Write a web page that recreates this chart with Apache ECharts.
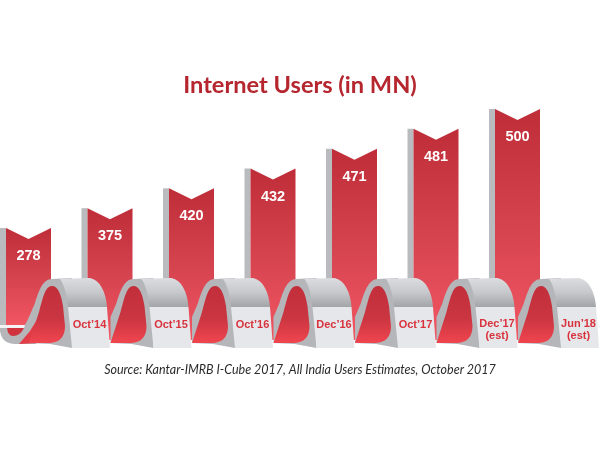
<!DOCTYPE html>
<html>
<head>
<meta charset="utf-8">
<style>html,body{margin:0;padding:0;background:#fff}#chart{width:600px;height:450px}</style>
<script src="https://cdn.jsdelivr.net/npm/echarts@6/dist/echarts.min.js"></script>
</head>
<body>
<div id="chart"></div>
<script>
// the picture is not to scale: bars step up evenly, so the y axis is ordinal
const categories = ["Oct’14", "Oct’15", "Oct’16", "Dec’16", "Oct’17", "Dec’17\n(est)", "Jun’18\n(est)"];
const users = [278, 375, 420, 432, 471, 481, 500];
const levels = users.map(String);

const chart = echarts.init(document.getElementById("chart"));
const Grad = echarts.graphic.LinearGradient;

const barW = 45;
const sideW = 6;
const notch = 11;

function path(d, fill) {
  return { type: "path", shape: { pathData: d }, style: { fill: fill } };
}

function renderBar(params, api) {
  const i = api.value(0);
  const top = api.coord([i, api.value(1)]);
  const base = api.coord([i, 0])[1];
  const x0 = top[0] - barW / 2;
  const h = top[1] - base; // negative, measured from the base level
  const bottom = i === 0 ? 98 : 112;
  const sideBottom = i === 0 ? 104 : 72;
  return {
    type: "group",
    x: x0,
    y: base,
    children: [
      path(`M${-sideW} ${h}L0 ${h}L0 ${sideBottom}L${-sideW} ${sideBottom}Z`, "#b9bbbf"),
      path(`M0 ${h}L${barW / 2} ${h + notch}L${barW} ${h}L${barW} ${bottom}L0 ${bottom}Z`,
        new Grad(0, 0, 0, 1, [
          { offset: 0, color: "#bf2e38" },
          { offset: 0.5, color: "#d4434e" },
          { offset: 1, color: "#f25663" }
        ])),
      {
        type: "text",
        style: {
          text: String(users[i]), x: barW / 2, y: h + 28,
          align: "center", verticalAlign: "middle",
          fill: "#fff", font: 'bold 14.5px "Liberation Sans"'
        }
      }
    ]
  };
}

function renderArch(params, api) {
  const i = api.value(0);
  const pt = api.coord([i, 0]);
  const children = [];
  if (i === 0) {
    // ribbon tail that curls out of the first bar
    children.push(path("M-6 100Q-6 116 10 116L30 116L30 85L23 89Q18 100 16 100Z", "#b4b6ba"));
    children.push(path("M1 100L18 100Q14 108 7 108Q2 108 1 100Z", "#d0333d"));
    children.push(path("M-6 97L19 97L18 100L-6 100Z", "#f4f4f5"));
  }
  children.push(path("M23 115L23 89L29 75C33 62 37 51 46 51L66 50L66 120L44 116Z", "#b4b6ba"));
  if (i === 0) {
    children.push(path("M13 116L24 103L32 90L32 115Z", "#e23d47"));
  }
  children.push(
    path("M23 115L33 84C37 70 39 58 46 58C52 58 55 66 57 78L59 98Q59 114 44 115Z",
      new Grad(0, 0, 0, 1, [
        { offset: 0, color: "#c22f3a" },
        { offset: 0.55, color: "#c93540" },
        { offset: 1, color: "#f0454f" }
      ])),
    path("M46 51L84 50C94 52 100 64 101 79L62 79C61 67 58 56 54 51Z",
      new Grad(0, 0, 0, 1, [
        { offset: 0, color: "#dcdde0" },
        { offset: 0.5, color: "#c6c8cb" },
        { offset: 1, color: "#a2a4a8" }
      ])),
    path("M62 79L101 79L104 120L66 120Z", "#e6e7ea"),
    {
      type: "text",
      style: {
        text: categories[i], x: 83.5, y: categories[i].includes("\n") ? 102 : 97,
        align: "center", verticalAlign: "middle", lineHeight: 12,
        fill: "#d8323d", font: 'bold 11px "Liberation Sans"'
      }
    }
  );
  return { type: "group", x: pt[0] - barW / 2, y: pt[1], children: children };
}

const seriesData = users.map((v, i) => [i, levels[i]]);

chart.setOption({
  animation: false,
  backgroundColor: "#fff",
  title: [
    {
      text: "Internet Users (in MN)", left: 295, top: 68, textAlign: "center",
      textStyle: { color: "#b5262f", fontFamily: "Lato", fontWeight: "bold", fontSize: 23.6 }
    },
    {
      text: "Source: Kantar-IMRB I-Cube 2017, All India Users Estimates, October 2017",
      left: 295, top: 358, textAlign: "center",
      textStyle: { color: "#2b2b2b", fontFamily: "Lato", fontStyle: "italic", fontWeight: "normal", fontSize: 12.5 }
    }
  ],
  grid: { left: 28.5, right: 82.5, top: 109, height: 119 },
  xAxis: { type: "category", data: categories, boundaryGap: false, show: false },
  yAxis: { type: "category", data: levels, boundaryGap: false, show: false },
  series: [
    { type: "custom", renderItem: renderBar, data: seriesData, clip: false, z: 2, silent: true },
    { type: "custom", renderItem: renderArch, data: seriesData, clip: false, z: 3, silent: true }
  ]
});
</script>
</body>
</html>
